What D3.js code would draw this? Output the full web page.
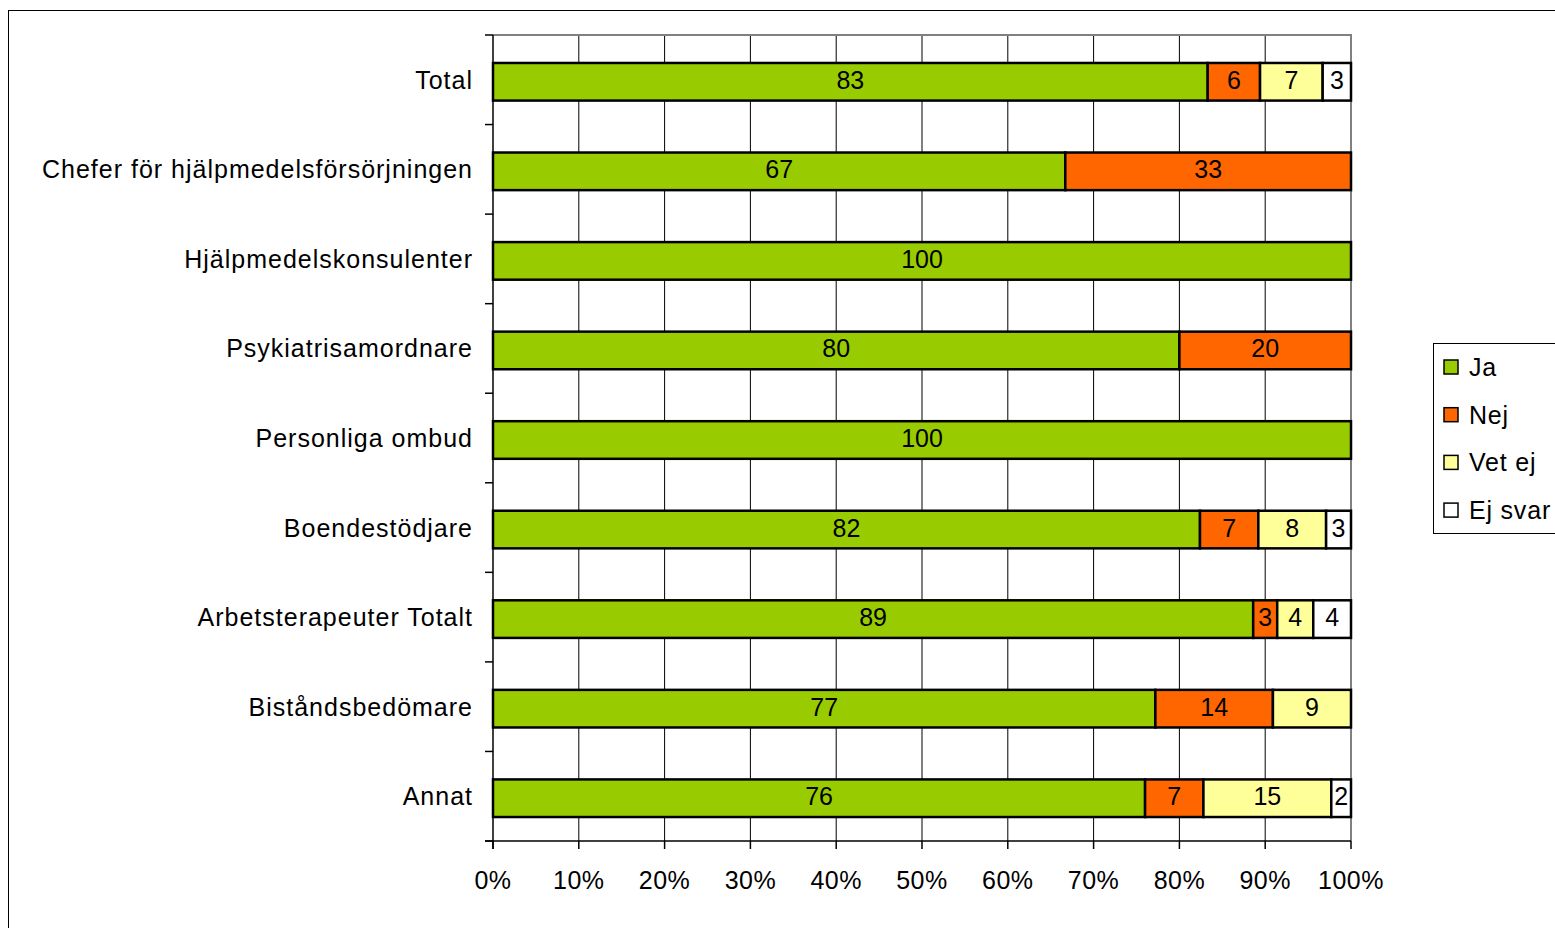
<!DOCTYPE html>
<html><head><meta charset="utf-8">
<script src="https://cdn.jsdelivr.net/npm/d3@7"></script>
<style>body{margin:0;background:#fff}svg{display:block;font-family:"Liberation Sans",Arial,sans-serif}</style>
</head><body><svg id="c" width="1555" height="928"></svg>
<script>
const categories = ["Total","Chefer för hjälpmedelsförsörjningen","Hjälpmedelskonsulenter","Psykiatrisamordnare","Personliga ombud","Boendestödjare","Arbetsterapeuter Totalt","Biståndsbedömare","Annat"];
const seriesNames = ["Ja","Nej","Vet ej","Ej svar"];
const ja     = [83.3, 66.7, 100, 80, 100, 82.4, 88.6, 77.2, 76.0];
const nej    = [6.1, 33.3, 0, 20, 0, 6.8, 2.8, 13.7, 6.8];
const vetEj  = [7.3, 0, 0, 0, 0, 7.9, 4.2, 9.1, 14.9];
const ejSvar = [3.3, 0, 0, 0, 0, 2.9, 4.4, 0, 2.3];
const colors = ["#99cc00","#ff6600","#ffff99","#ffffff"];
const xTicks = [0,10,20,30,40,50,60,70,80,90,100];

const svg = d3.select("#c");
const L=493, R=1351, T=35, B=841;
const x = d3.scaleLinear().domain([0,100]).range([L,R]);
const y = d3.scaleBand().domain(categories).range([T,B]).paddingInner(0.58).paddingOuter(0.29);
const barShift = 2;

// outer border
svg.append("rect").attr("x",8.5).attr("y",10.5).attr("width",1600).attr("height",1000)
  .attr("fill","none").attr("stroke","#000").attr("stroke-width",1);

// gridlines
svg.append("g").selectAll("line").data(xTicks.slice(1,-1)).join("line")
  .attr("x1",d=>x(d)).attr("x2",d=>x(d)).attr("y1",T).attr("y2",B)
  .attr("stroke","#000").attr("stroke-width",1);
// plot border top/right grey
svg.append("path").attr("d",`M${L},${T}H${R}V${B}`).attr("fill","none").attr("stroke","#808080").attr("stroke-width",2);

// bars
const data = [ja,nej,vetEj,ejSvar];
const stacked = categories.map((c,i)=>{let acc=0;return data.map((s,k)=>{const v=s[i];const o={cat:c,k,x0:acc,x1:acc+v,v};acc+=v;return o;});}).flat().filter(d=>d.v>0);
const g = svg.append("g");
g.selectAll("rect").data(stacked).join("rect")
  .attr("x",d=>x(d.x0)).attr("width",d=>x(d.x1)-x(d.x0))
  .attr("y",d=>y(d.cat)+barShift).attr("height",y.bandwidth())
  .attr("fill",d=>colors[d.k]).attr("stroke","#000").attr("stroke-width",2.5);
g.selectAll("text").data(stacked).join("text")
  .attr("x",d=>(x(d.x0)+x(d.x1))/2).attr("y",d=>y(d.cat)+y.bandwidth()/2)
  .attr("dy","0.36em").attr("text-anchor","middle").attr("font-size",25).attr("fill","#000")
  .text(d=>Math.round(d.v));

// y axis
const yax = svg.append("g");
yax.append("line").attr("x1",L).attr("x2",L).attr("y1",T).attr("y2",B+8).attr("stroke","#000").attr("stroke-width",1.5);
const bounds = d3.range(categories.length+1).map(k=>T+k*y.step());
yax.selectAll("line.t").data(bounds).join("line").attr("class","t")
  .attr("x1",L-8).attr("x2",L).attr("y1",d=>d).attr("y2",d=>d).attr("stroke","#000").attr("stroke-width",1.5);
yax.selectAll("text").data(categories).join("text")
  .attr("x",L-20).attr("y",d=>y(d)+y.bandwidth()/2).attr("dy","0.36em")
  .attr("text-anchor","end").attr("font-size",25).attr("letter-spacing","1px").text(d=>d);

// x axis
const xax = svg.append("g");
xax.append("line").attr("x1",L-8).attr("x2",R).attr("y1",B).attr("y2",B).attr("stroke","#000").attr("stroke-width",1.5);
xax.selectAll("line.t").data(xTicks).join("line").attr("class","t")
  .attr("x1",d=>x(d)).attr("x2",d=>x(d)).attr("y1",B).attr("y2",B+8).attr("stroke","#000").attr("stroke-width",1.5);
xax.selectAll("text").data(xTicks).join("text")
  .attr("x",d=>x(d)).attr("y",880).attr("dy","0.36em").attr("text-anchor","middle").attr("font-size",25)
  .attr("letter-spacing","0.5px").text(d=>d+"%");

// legend
const lg = svg.append("g");
lg.append("rect").attr("x",1433.5).attr("y",343.5).attr("width",200).attr("height",190)
  .attr("fill","#fff").attr("stroke","#000").attr("stroke-width",1);
const items = lg.selectAll("g").data(seriesNames).join("g")
  .attr("transform",(d,i)=>`translate(1444,${367+i*47.7})`);
items.append("rect").attr("x",0).attr("y",-7).attr("width",14).attr("height",14)
  .attr("fill",(d,i)=>colors[i]).attr("stroke","#000").attr("stroke-width",1.5);
items.append("text").attr("x",25).attr("y",0).attr("dy","0.36em").attr("font-size",25)
  .attr("letter-spacing","0.8px").text(d=>d);
</script></body></html>
